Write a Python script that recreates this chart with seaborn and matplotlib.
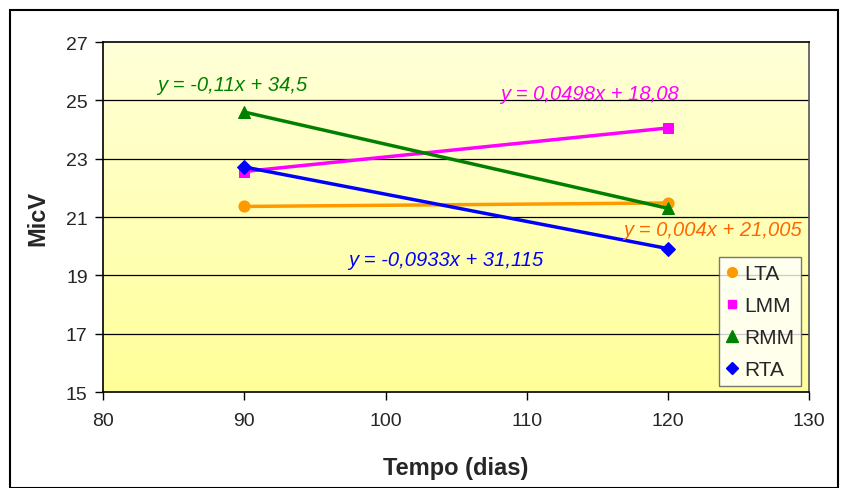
import numpy as np
import pandas as pd
import matplotlib
matplotlib.use("Agg")
import matplotlib.pyplot as plt
from matplotlib.lines import Line2D
from matplotlib.patches import Rectangle
import seaborn as sns

sns.set_theme(style="white")
plt.rcParams['font.family'] = ['Liberation Sans', 'DejaVu Sans']

# Data
days = [90, 120]
series = ["LTA", "LMM", "RMM", "RTA"]
lta = [21.365, 21.485]
lmm = [22.562, 24.056]
rmm = [24.6, 21.3]
rta = [22.718, 19.919]
equations = ["y = 0,004x + 21,005", "y = 0,0498x + 18,08",
             "y = -0,11x + 34,5", "y = -0,0933x + 31,115"]
eq_pos = [(116.8, 20.59), (108.1, 25.22), (83.8, 25.56), (97.35, 19.56)]
colors = ["#FF9900", "#FF00FF", "#008000", "#0000FF"]
markers = ["o", "s", "^", "D"]
msizes = [8, 7, 9, 7]
text_colors = ["#FF6600", "#FF00FF", "#008000", "#0000FF"]

df = pd.DataFrame({
    "Tempo": days * 4,
    "MicV": lta + lmm + rmm + rta,
    "Serie": [s for s in series for _ in days],
})

fig = plt.figure(figsize=(8.51, 4.89), dpi=100)
ax = fig.add_axes([0.121, 0.196, 0.830, 0.716])

# gradient background
grad = np.linspace(0, 1, 256).reshape(-1, 1)
top = np.array([1.0, 1.0, 0.85])
bot = np.array([1.0, 1.0, 0.60])
img = top[None, None, :] * (1 - grad[:, :, None]) + bot[None, None, :] * grad[:, :, None]
ax.imshow(img, extent=[80, 130, 15, 27], aspect="auto", zorder=0, origin="upper")

for y in [17, 19, 21, 23, 25]:
    ax.axhline(y, color="black", lw=0.9, zorder=1)

for s, c, m, ms in zip(series, colors, markers, msizes):
    sub = df[df["Serie"] == s]
    sns.lineplot(data=sub, x="Tempo", y="MicV", color=c, marker=m, markersize=ms,
                 markeredgecolor=c, lw=2.5, ax=ax, zorder=3, legend=False)

for eq, (x, y), tc in zip(equations, eq_pos, text_colors):
    ax.text(x, y, eq, color=tc, fontsize=14.5, style="italic", va="center", ha="left", zorder=4)

ax.set_xlim(80, 130)
ax.set_ylim(15, 27)
ax.set_xticks([80, 90, 100, 110, 120, 130])
ax.set_yticks([15, 17, 19, 21, 23, 25, 27])
ax.tick_params(axis="both", direction="out", length=6, width=1, color="black",
               labelsize=14, bottom=True, left=True)
ax.tick_params(axis="x", pad=8)
ax.tick_params(axis="y", pad=5)
ax.set_xlabel("Tempo (dias)", fontsize=17, fontweight="bold", labelpad=20)
ax.set_ylabel("MicV", fontsize=17, fontweight="bold", labelpad=12)
for side in ["left", "bottom", "top"]:
    ax.spines[side].set_color("black")
    ax.spines[side].set_linewidth(1.2)
ax.spines["right"].set_color("#555555")
ax.spines["right"].set_linewidth(1.2)

handles = [Line2D([], [], color=c, marker=m, linestyle="none", markersize=ms - 1)
           for c, m, ms in zip(colors, markers, msizes)]
leg = ax.legend(handles, series, loc="lower right", bbox_to_anchor=(0.9887, 0.017),
                fontsize=15, frameon=True, fancybox=False, edgecolor="#555555",
                handlelength=0.6, handletextpad=0.25, labelspacing=0.62, borderpad=0.35,
                borderaxespad=0)
leg.get_frame().set_linewidth(1.0)
leg.get_frame().set_facecolor("white")

fig.patches.append(Rectangle((10 / 851, 0), (838 - 10) / 851, 1 - 11 / 489,
                             transform=fig.transFigure, fill=False,
                             edgecolor="black", lw=1.5))

fig.savefig("out.png", dpi=100)
